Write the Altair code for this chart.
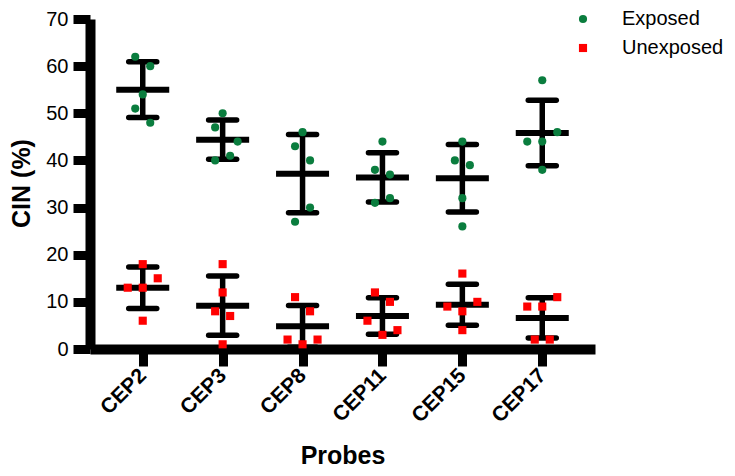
import altair as alt
import pandas as pd

probes = ["CEP2", "CEP3", "CEP8", "CEP11", "CEP15", "CEP17"]
groups = ["Exposed", "Unexposed"]
colors = ["#0a7d3e", "#ff0000"]
shapes = ["circle", "square"]

# CIN (%) per replicate, one list per probe
exposed_values = [
    [62, 60, 54, 51, 48],
    [50, 47, 44, 41, 40],
    [46, 43, 40, 30, 27],
    [44, 38, 37, 32, 31],
    [44, 40, 39, 32, 26],
    [57, 46, 44, 44, 38],
]
unexposed_values = [
    [18, 15, 13, 13, 6],
    [18, 12, 8, 7, 1],
    [11, 8, 2, 1, 2],
    [12, 10, 6, 4, 3],
    [16, 10, 9, 8, 4],
    [11, 9, 9, 2, 2],
]
# horizontal scatter slot of each dot (scatter dot plot layout)
exposed_slots = [
    [-1, 1, 0, -1, 1],
    [0, -1, 2, 1, -1],
    [0, -1, 1, 1, -1],
    [0, -1, 1, 1, -1],
    [0, -1, 1, 0, 0],
    [0, 2, -2, 0, 0],
]
unexposed_slots = [
    [0, 2, -2, 0, 0],
    [0, 0, -1, 1, 0],
    [-1, 1, -2, 0, 2],
    [-1, 1, -2, 2, 0],
    [0, 2, -2, 0, 0],
    [2, -2, 0, -1, 1],
]

rows = []
for g, vals, slots in [("Exposed", exposed_values, exposed_slots),
                       ("Unexposed", unexposed_values, unexposed_slots)]:
    for p, vs, ss in zip(probes, vals, slots):
        for v, s in zip(vs, ss):
            rows.append({"probe": p, "group": g, "value": v, "slot": s})
df = pd.DataFrame(rows)

xscale = alt.Scale(type="point", padding=0.66)
yscale = alt.Scale(domain=[0, 70], nice=False)
yaxis = alt.Axis(values=list(range(0, 71, 10)))


def X():
    return alt.X("probe:N", sort=probes, scale=xscale, title="Probes")


def Y(field):
    return alt.Y(field, type="quantitative", scale=yscale, axis=yaxis, title="CIN (%)")


base = alt.Chart(df)
stats = base.transform_aggregate(
    mean="mean(value)", sd="stdev(value)", groupby=["probe", "group"]
).transform_calculate(lo="datum.mean - datum.sd", hi="datum.mean + datum.sd")

vline = stats.mark_rule(color="black", strokeWidth=5.5).encode(
    x=X(), y=Y("lo"), y2="hi:Q"
)
cap_hi = stats.mark_rule(color="black", strokeWidth=5.5, strokeCap="round",
                         xOffset=-14, x2Offset=14).encode(
    x=X(), x2="probe", y=Y("hi")
)
cap_lo = stats.mark_rule(color="black", strokeWidth=5.5, strokeCap="round",
                         xOffset=-14, x2Offset=14).encode(
    x=X(), x2="probe", y=Y("lo")
)
mean_line = stats.mark_rule(color="black", strokeWidth=6, strokeCap="butt",
                            xOffset=-26.5, x2Offset=26.5).encode(
    x=X(), x2="probe", y=Y("mean")
)

leg = alt.Legend(title=None, orient="none", legendX=483, legendY=-10,
                 labelFontSize=20, labelFont="Liberation Sans", labelColor="black",
                 symbolSize=66, symbolStrokeWidth=0, labelOffset=29,
                 rowPadding=9, padding=0)

points = base.mark_point(filled=True, size=66, opacity=1).encode(
    x=X(),
    xOffset=alt.XOffset("slot:Q", scale=alt.Scale(domain=[-2, 2], range=[-15, 15])),
    y=Y("value"),
    color=alt.Color("group:N", scale=alt.Scale(domain=groups, range=colors), legend=leg),
    shape=alt.Shape("group:N", scale=alt.Scale(domain=groups, range=shapes), legend=leg),
)

chart = alt.layer(vline, cap_hi, cap_lo, mean_line, points).properties(
    width=505, height=330,
    autosize=alt.AutoSizeParams(type="none"),
    padding={"left": 82, "top": 11, "right": 132, "bottom": 119},
).configure_view(stroke=None).configure_axis(
    domainColor="black", domainWidth=10, tickColor="black", tickWidth=9,
    tickSize=17, labelColor="black", titleColor="black", grid=False,
    labelFont="Liberation Sans", titleFont="Liberation Sans",
).configure_axisX(
    labelAngle=-45, labelFontSize=21, labelFontWeight="bold", labelAlign="right",
    labelBaseline="middle", labelPadding=6, titleFontSize=25, titleFontWeight="bold",
    titleY=114, titleBaseline="alphabetic",
).configure_axisY(
    labelFontSize=20, labelPadding=5, titleFontSize=25, titleFontWeight="bold",
    titleX=-56, titleY=164,
)

chart.save("out.html", embed_options={"renderer": "svg", "actions": False})
